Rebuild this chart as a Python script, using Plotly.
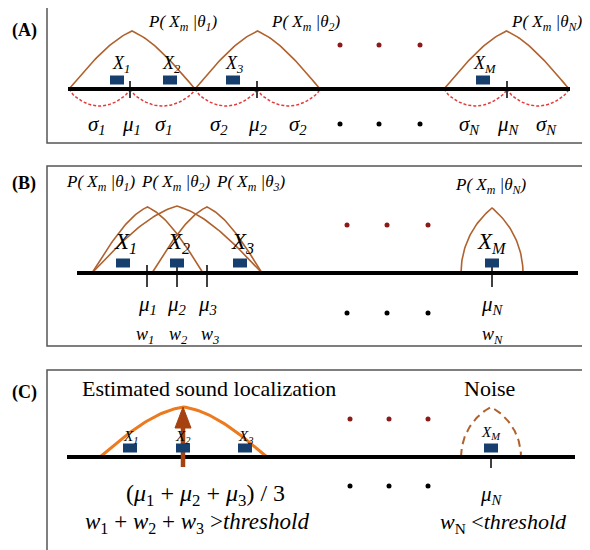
import numpy as np
import plotly.graph_objects as go

# ---------------- data (diagram coordinates, pixel-like units) ----------------
panel_labels = ["(A)", "(B)", "(C)"]
panel_label_y = [30, 183, 392]
box_top = [7, 166, 370]
box_bottom = [143, 346, 556]
box_left = 47
box_right = 588
baseline_y = [89, 273, 457]
baseline_x0 = [68, 77, 67]
baseline_x1 = [570, 578, 575]

# Panel A
A_arch_left = [69, 195, 444]
A_arch_right = [195, 320, 569]
A_arch_peak_y = 31
A_mu_x = [130, 257, 507]
A_bowl_pairs = [(69, 130), (130, 195), (195, 257), (257, 320), (444, 507), (507, 569)]
A_square_x = [117, 170, 233, 483]
A_square_y = 80
A_x_labels = ["X<sub>1</sub>", "X<sub>2</sub>", "X<sub>3</sub>", "X<sub>M</sub>"]
A_x_label_x = [121, 171, 234, 485]
A_p_labels = ["P( X<sub>m</sub> |θ<sub>1</sub>)", "P( X<sub>m</sub> |θ<sub>2</sub>)", "P( X<sub>m</sub> |θ<sub>N</sub>)"]
A_p_label_x = [183, 306, 547]
A_sigma_labels = ["σ<sub>1</sub>", "μ<sub>1</sub>", "σ<sub>1</sub>", "σ<sub>2</sub>", "μ<sub>2</sub>",
                  "σ<sub>2</sub>", "σ<sub>N</sub>", "μ<sub>N</sub>", "σ<sub>N</sub>"]
A_sigma_x = [97, 131, 164, 219, 258, 298, 469, 508, 546]

# Panel B
B_arch_left = [92, 92, 152]
B_arch_right = [203, 262, 262]
B_arch_peak_y = [207, 206, 207]
B_noise_arch = (461, 523, 208)
B_mu_x = [147, 177, 207, 492]
B_square_x = [123, 177, 240, 492]
B_square_y = 263
B_x_label_x = [125, 178, 242, 492]
B_p_labels = ["P( X<sub>m</sub> |θ<sub>1</sub>)", "P( X<sub>m</sub> |θ<sub>2</sub>)",
              "P( X<sub>m</sub> |θ<sub>3</sub>)", "P( X<sub>m</sub> |θ<sub>N</sub>)"]
B_p_label_x = [101, 176, 251, 491]
B_p_label_y = [183, 183, 183, 186]
B_mu_labels = ["μ<sub>1</sub>", "μ<sub>2</sub>", "μ<sub>3</sub>", "μ<sub>N</sub>"]
B_w_labels = ["w<sub>1</sub>", "w<sub>2</sub>", "w<sub>3</sub>", "w<sub>N</sub>"]
B_w_x = [145, 178, 210, 492]

# Panel C
C_arch = (100, 267, 407)
C_noise_arch = (461, 521, 407)
C_square_x = [130, 183, 245, 491]
C_square_y = 448
C_x_label_x = [130, 183, 245, 491]
C_x_label_y = [437, 437, 437, 433]
C_arrow_x = 183
C_arrow_y = (467, 407)
C_mu_x = 491

# ellipsis dots
dots_x = [[340, 379, 420], [347, 387, 428], [350, 389, 428]]
red_dots_y = [45, 225, 419]
black_dots_y = [124, 313, 486]

BROWN = "#b0622e"
NAVY = "#173f6e"
ARROW = "#a5420f"
SERIF = "Liberation Serif"
OFFSET = 8  # page body margin compensation

fig = go.Figure()


def arch(xl, xr, base, peak, a=1.2, n=40):
    """Pointed arch: two concave halves meeting at a cusp."""
    xc = (xl + xr) / 2
    h = base - peak
    t = np.linspace(0, 1, n)
    yl = base - h * np.sin(a * t) / np.sin(a)
    xs = np.concatenate([xl + t * (xc - xl), xc + t * (xr - xc)])
    ys = np.concatenate([yl, yl[::-1]])
    return xs, ys


def gothic(xl, xr, base, peak, n=40):
    """Gothic arch: circular halves centred on the baseline (vertical feet)."""
    w = (xr - xl) / 2
    h = base - peak
    r = (w * w + h * h) / (2 * w)
    thp = np.arccos((w - r) / r)
    th = np.linspace(np.pi, thp, n)
    xl_half = xl + r + r * np.cos(th)
    yl_half = base - r * np.sin(th)
    xr_half = xr - (xl_half - xl)
    xs = np.concatenate([xl_half, xr_half[::-1]])
    ys = np.concatenate([yl_half, yl_half[::-1]])
    return xs, ys


def bowl(x0, x1, base, depth, n=30):
    t = np.linspace(0, 1, n)
    return x0 + t * (x1 - x0), base + depth * np.sin(np.pi * t) ** 0.7


def line(xs, ys, color, width, dash="solid"):
    fig.add_trace(go.Scatter(x=list(xs), y=list(ys), mode="lines",
                             line=dict(color=color, width=width, dash=dash),
                             hoverinfo="skip", showlegend=False))


def text(x, y, s, size=18, italic=False, bold=False, color="black"):
    if italic:
        s = "<i>" + s + "</i>"
    if bold:
        s = "<b>" + s + "</b>"
    fig.add_annotation(x=x, y=y, text=s, showarrow=False, xanchor="center", yanchor="middle",
                       font=dict(family=SERIF, size=size, color=color))


# boxes
for i in range(3):
    fig.add_shape(type="rect", x0=box_left, x1=box_right, y0=box_top[i], y1=box_bottom[i],
                  line=dict(color="#555555", width=1.5))
    text(24, panel_label_y[i], panel_labels[i], size=18, bold=True)

# ---------- Panel A ----------
for xl, xr in zip(A_arch_left, A_arch_right):
    xs, ys = arch(xl, xr, baseline_y[0], A_arch_peak_y, a=1.2)
    line(xs, ys, BROWN, 1.6)
for x0, x1 in A_bowl_pairs:
    xs, ys = bowl(x0, x1, baseline_y[0], 17)
    line(xs, ys, "#e03a3a", 1.5, dash="3px,2px")
line([baseline_x0[0], baseline_x1[0]], [baseline_y[0]] * 2, "black", 4)
for mx in A_mu_x:
    line([mx, mx], [baseline_y[0] - 8, baseline_y[0] + 9], "black", 1.5)
for x, s in zip(A_x_label_x, A_x_labels):
    text(x, 64, s, size=18, italic=True)
for x, s in zip(A_p_label_x, A_p_labels):
    text(x, 23, s, size=17, italic=True)
for x, s in zip(A_sigma_x, A_sigma_labels):
    text(x, 125, s, size=21, italic=True)

# ---------- Panel B ----------
for xl, xr, pk in zip(B_arch_left, B_arch_right, B_arch_peak_y):
    xs, ys = arch(xl, xr, baseline_y[1], pk, a=1.3)
    line(xs, ys, BROWN, 1.6)
xs, ys = gothic(B_noise_arch[0], B_noise_arch[1], baseline_y[1], B_noise_arch[2])
line(xs, ys, BROWN, 1.6)
line([baseline_x0[1], baseline_x1[1]], [baseline_y[1]] * 2, "black", 4)
for mx in B_mu_x:
    line([mx, mx], [baseline_y[1] - 8, baseline_y[1] + 14], "black", 1.5)
for x, s in zip(B_x_label_x, A_x_labels):
    text(x, 243, s, size=23, italic=True)
for x, y, s in zip(B_p_label_x, B_p_label_y, B_p_labels):
    text(x, y, s, size=17, italic=True)
for x, s in zip(B_mu_x, B_mu_labels):
    text(x, 305, s, size=21, italic=True)
for x, s in zip(B_w_x, B_w_labels):
    text(x, 335, s, size=18, italic=True)

# ---------- Panel C ----------
xs, ys = arch(C_arch[0], C_arch[1], baseline_y[2], C_arch[2], a=1.4)
line(xs, ys, "#ec7a1f", 3)
xs, ys = gothic(C_noise_arch[0], C_noise_arch[1], baseline_y[2], C_noise_arch[2])
line(xs, ys, BROWN, 2, dash="8px,5px")
line([baseline_x0[2], baseline_x1[2]], [baseline_y[2]] * 2, "black", 4)
line([C_mu_x, C_mu_x], [baseline_y[2], baseline_y[2] + 11], "black", 1.5)
for x, y, s in zip(C_x_label_x, C_x_label_y, A_x_labels):
    text(x, y, s, size=15, italic=True)

# squares (all panels)
for sx_list, sy in [(A_square_x, A_square_y), (B_square_x, B_square_y), (C_square_x, C_square_y)]:
    for sx in sx_list:
        fig.add_shape(type="rect", x0=sx - 7, x1=sx + 7, y0=sy - 4.5, y1=sy + 4.5,
                      fillcolor=NAVY, line=dict(width=0))

# arrow in C (drawn above squares)
line([C_arrow_x, C_arrow_x], [C_arrow_y[0], C_arrow_y[1] + 18], ARROW, 4.5)
fig.add_trace(go.Scatter(x=[C_arrow_x - 8, C_arrow_x + 8, C_arrow_x, C_arrow_x - 8],
                         y=[C_arrow_y[1] + 21, C_arrow_y[1] + 21, C_arrow_y[1], C_arrow_y[1] + 21],
                         mode="lines", fill="toself", fillcolor=ARROW,
                         line=dict(color=ARROW, width=1), hoverinfo="skip", showlegend=False))

text(209, 388, "Estimated sound localization", size=22)
text(489, 388, "Noise", size=22)
text(205, 495, "(<i>μ</i><sub>1</sub> + <i>μ</i><sub>2</sub> + <i>μ</i><sub>3</sub>) / 3", size=24)
text(197, 523, "<i>w</i><sub>1</sub> + <i>w</i><sub>2</sub> + <i>w</i><sub>3</sub> ><i>threshold</i>", size=23)
text(C_mu_x, 495, "μ<sub>N</sub>", size=21, italic=True)
text(503, 523, "<i>w</i><sub>N</sub> <<i>threshold</i>", size=22)

# ellipsis dots
for i in range(3):
    fig.add_trace(go.Scatter(x=dots_x[i], y=[red_dots_y[i]] * 3, mode="markers",
                             marker=dict(color="#8b1a1a", size=5), hoverinfo="skip", showlegend=False))
    fig.add_trace(go.Scatter(x=dots_x[i], y=[black_dots_y[i]] * 3, mode="markers",
                             marker=dict(color="black", size=5), hoverinfo="skip", showlegend=False))

fig.update_layout(
    width=590, height=550, margin=dict(l=0, r=0, t=0, b=0),
    paper_bgcolor="white", plot_bgcolor="white",
    xaxis=dict(range=[OFFSET, 590 + OFFSET], visible=False, fixedrange=True),
    yaxis=dict(range=[550 + OFFSET, OFFSET], visible=False, fixedrange=True),
    showlegend=False,
)
fig.write_html("out.html")
